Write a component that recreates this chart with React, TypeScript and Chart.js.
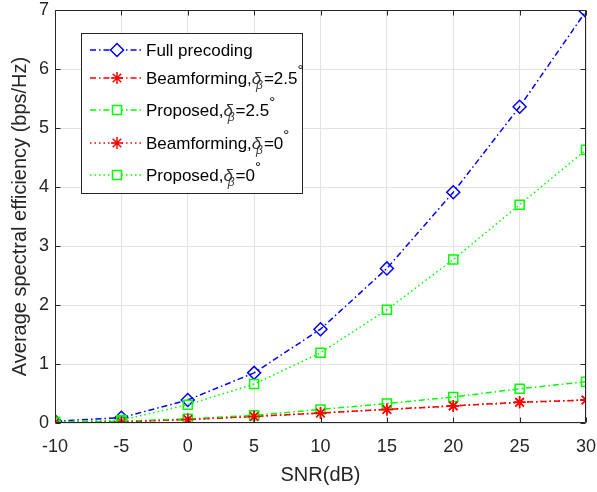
import React, { useEffect, useRef } from 'react';
import { Chart, registerables } from 'chart.js';

Chart.register(...registerables);

const snr = [-10, -5, 0, 5, 10, 15, 20, 25, 30];
const fullPrecoding = [0.03, 0.09, 0.39, 0.85, 1.59, 2.62, 3.91, 5.36, 6.98];
const beam25 = [0.01, 0.02, 0.06, 0.11, 0.17, 0.23, 0.29, 0.35, 0.39];
const prop25 = [0.01, 0.03, 0.07, 0.13, 0.23, 0.33, 0.44, 0.58, 0.7];
const beam0 = [0.01, 0.02, 0.06, 0.11, 0.17, 0.23, 0.29, 0.35, 0.39];
const prop0 = [0.02, 0.05, 0.31, 0.66, 1.19, 1.92, 2.77, 3.7, 4.63];

const xTicks = [-10, -5, 0, 5, 10, 15, 20, 25, 30];
const yTicks = [0, 1, 2, 3, 4, 5, 6, 7];

const FONT = "'Liberation Sans', Arial, Helvetica, sans-serif";
const AXIS = '#262626';
const DASHDOT = [6, 3, 1.5, 3];
const DOTTED = [1.5, 3];

type Entry = {
  main: string;
  sub?: boolean;
  val?: string;
  color: string;
  dash: number[];
  style: string;
  radius: number;
  y: number;
};

const legendEntries: Entry[] = [
  { main: 'Full precoding', color: '#0000ff', dash: DASHDOT, style: 'rectRot', radius: 6.5, y: 50 },
  { main: 'Beamforming,', sub: true, val: '=2.5', color: '#ff0000', dash: DASHDOT, style: 'star', radius: 6, y: 78 },
  { main: 'Proposed,', sub: true, val: '=2.5', color: '#00ff00', dash: DASHDOT, style: 'rect', radius: 6.4, y: 110 },
  { main: 'Beamforming,', sub: true, val: '=0', color: '#ff0000', dash: DOTTED, style: 'star', radius: 6, y: 143 },
  { main: 'Proposed,', sub: true, val: '=0', color: '#00ff00', dash: DOTTED, style: 'rect', radius: 6.4, y: 175 },
];

const framePlugin = {
  id: 'frameAndLegend',
  afterDraw(chart: any) {
    const { ctx, chartArea: a, scales } = chart;
    const L = Math.round(a.left) + 0.5;
    const R = Math.round(a.right) - 0.5;
    const T = Math.round(a.top) + 0.5;
    const B = Math.round(a.bottom) - 0.5;
    ctx.save();
    ctx.strokeStyle = AXIS;
    ctx.lineWidth = 1;
    ctx.setLineDash([]);
    ctx.beginPath();
    ctx.rect(L, T, R - L, B - T);
    ctx.stroke();
    const tl = 5;
    ctx.beginPath();
    xTicks.forEach((v) => {
      const px = Math.round(scales.x.getPixelForValue(v)) + 0.5;
      ctx.moveTo(px, B);
      ctx.lineTo(px, B - tl);
      ctx.moveTo(px, T);
      ctx.lineTo(px, T + tl);
    });
    yTicks.forEach((v) => {
      const py = Math.round(scales.y.getPixelForValue(v)) + 0.5;
      ctx.moveTo(L, py);
      ctx.lineTo(L + tl, py);
      ctx.moveTo(R, py);
      ctx.lineTo(R - tl, py);
    });
    ctx.stroke();

    // legend
    const bx = 81.5, by = 33.5, bw = 221, bh = 160;
    ctx.fillStyle = '#ffffff';
    ctx.fillRect(bx, by, bw, bh);
    ctx.strokeStyle = AXIS;
    ctx.strokeRect(bx, by, bw, bh);
    legendEntries.forEach((e) => {
      ctx.save();
      ctx.strokeStyle = e.color;
      ctx.lineWidth = 1.5;
      ctx.setLineDash(e.dash);
      ctx.beginPath();
      ctx.moveTo(90, e.y);
      ctx.lineTo(141, e.y);
      ctx.stroke();
      ctx.setLineDash([]);
      ctx.fillStyle = '#ffffff';
      const mx = 117;
      ctx.beginPath();
      if (e.style === 'rectRot') {
        ctx.moveTo(mx - e.radius, e.y);
        ctx.lineTo(mx, e.y - e.radius);
        ctx.lineTo(mx + e.radius, e.y);
        ctx.lineTo(mx, e.y + e.radius);
        ctx.closePath();
        ctx.fill();
      } else if (e.style === 'rect') {
        const h = e.radius * Math.SQRT1_2;
        ctx.rect(mx - h, e.y - h, 2 * h, 2 * h);
        ctx.fill();
      } else {
        const r = e.radius;
        const d = r * Math.SQRT1_2;
        ctx.moveTo(mx - r, e.y); ctx.lineTo(mx + r, e.y);
        ctx.moveTo(mx, e.y - r); ctx.lineTo(mx, e.y + r);
        ctx.moveTo(mx - d, e.y - d); ctx.lineTo(mx + d, e.y + d);
        ctx.moveTo(mx - d, e.y + d); ctx.lineTo(mx + d, e.y - d);
      }
      ctx.stroke();
      ctx.restore();

      const base = e.y + 6;
      let x = 146;
      ctx.fillStyle = '#000000';
      ctx.textAlign = 'left';
      ctx.textBaseline = 'alphabetic';
      ctx.font = `17px ${FONT}`;
      ctx.fillText(e.main, x, base);
      x += ctx.measureText(e.main).width;
      if (e.sub) {
        ctx.fillStyle = '#333333';
        ctx.font = `italic 17px ${FONT}`;
        ctx.fillText('δ', x, base);
        const dw = ctx.measureText('δ').width;
        ctx.font = `italic 12px ${FONT}`;
        const bxs = x + dw * 0.45;
        ctx.fillText('β', bxs, base + 5);
        x = bxs + ctx.measureText('β').width + 1;
        ctx.fillStyle = '#000000';
        ctx.font = `17px ${FONT}`;
        ctx.fillText(e.val as string, x, base);
        x += ctx.measureText(e.val as string).width;
        ctx.font = `15px ${FONT}`;
        ctx.fillText('°', x, base - 9);
      }
    });
    ctx.restore();
  },
};

function ds(label: string, data: number[], color: string, dash: number[], style: string, radius: number, order: number) {
  return {
    label,
    data: data.map((v, i) => ({ x: snr[i], y: v })),
    borderColor: color,
    backgroundColor: 'rgba(0,0,0,0)',
    borderWidth: 1.5,
    borderDash: dash,
    pointStyle: style,
    pointRadius: radius,
    pointBorderWidth: 1.5,
    pointBorderColor: color,
    pointBackgroundColor: 'rgba(0,0,0,0)',
    fill: false,
    tension: 0,
    order,
  };
}

export default function App() {
  const ref = useRef<HTMLCanvasElement>(null);
  useEffect(() => {
    const chart = new Chart(ref.current as HTMLCanvasElement, {
      type: 'line',
      data: {
        datasets: [
          ds('Full precoding', fullPrecoding, '#0000ff', DASHDOT, 'rectRot', 6.5, 5),
          ds('Beamforming 2.5', beam25, '#ff0000', DASHDOT, 'star', 6, 4),
          ds('Proposed 2.5', prop25, '#00ff00', DASHDOT, 'rect', 6.4, 3),
          ds('Beamforming 0', beam0, '#ff0000', DOTTED, 'star', 6, 2),
          ds('Proposed 0', prop0, '#00ff00', DOTTED, 'rect', 6.4, 1),
        ] as any,
      },
      options: {
        responsive: false,
        animation: false,
        layout: { padding: 0 },
        plugins: { legend: { display: false }, tooltip: { enabled: false } },
        scales: {
          x: {
            type: 'linear',
            min: -10,
            max: 30,
            afterFit: (s: any) => { s.height = 69; s.paddingLeft = 0; s.paddingRight = 11; },
            afterBuildTicks: (s: any) => { s.ticks = xTicks.map((v) => ({ value: v })); },
            ticks: { font: { size: 18, family: FONT, lineHeight: 1.1 }, color: AXIS, padding: 14, maxRotation: 0 },
            grid: { color: '#e3e3e3', drawTicks: false },
            border: { display: false },
            title: { display: true, text: 'SNR(dB)', font: { size: 20, family: FONT }, color: AXIS, padding: { top: 8, bottom: 5 } },
          },
          y: {
            type: 'linear',
            min: 0,
            max: 7,
            afterFit: (s: any) => { s.width = 55; s.paddingTop = 10; s.paddingBottom = 0; },
            afterBuildTicks: (s: any) => { s.ticks = yTicks.map((v) => ({ value: v })); },
            ticks: { font: { size: 18, family: FONT, lineHeight: 1.1 }, color: AXIS, padding: 6 },
            grid: { color: '#e3e3e3', drawTicks: false },
            border: { display: false },
            title: { display: true, text: 'Average spectral efficiency (bps/Hz)', font: { size: 20, family: FONT }, color: AXIS, padding: { top: 8, bottom: 8 } },
          },
        },
      },
      plugins: [framePlugin],
    });
    return () => chart.destroy();
  }, []);
  return (
    <div style={{ position: 'absolute', left: 0, top: 0, width: 597, height: 492, background: '#ffffff' }}>
      <canvas ref={ref} width={597} height={492} style={{ width: 597, height: 492, display: 'block' }} />
    </div>
  );
}
